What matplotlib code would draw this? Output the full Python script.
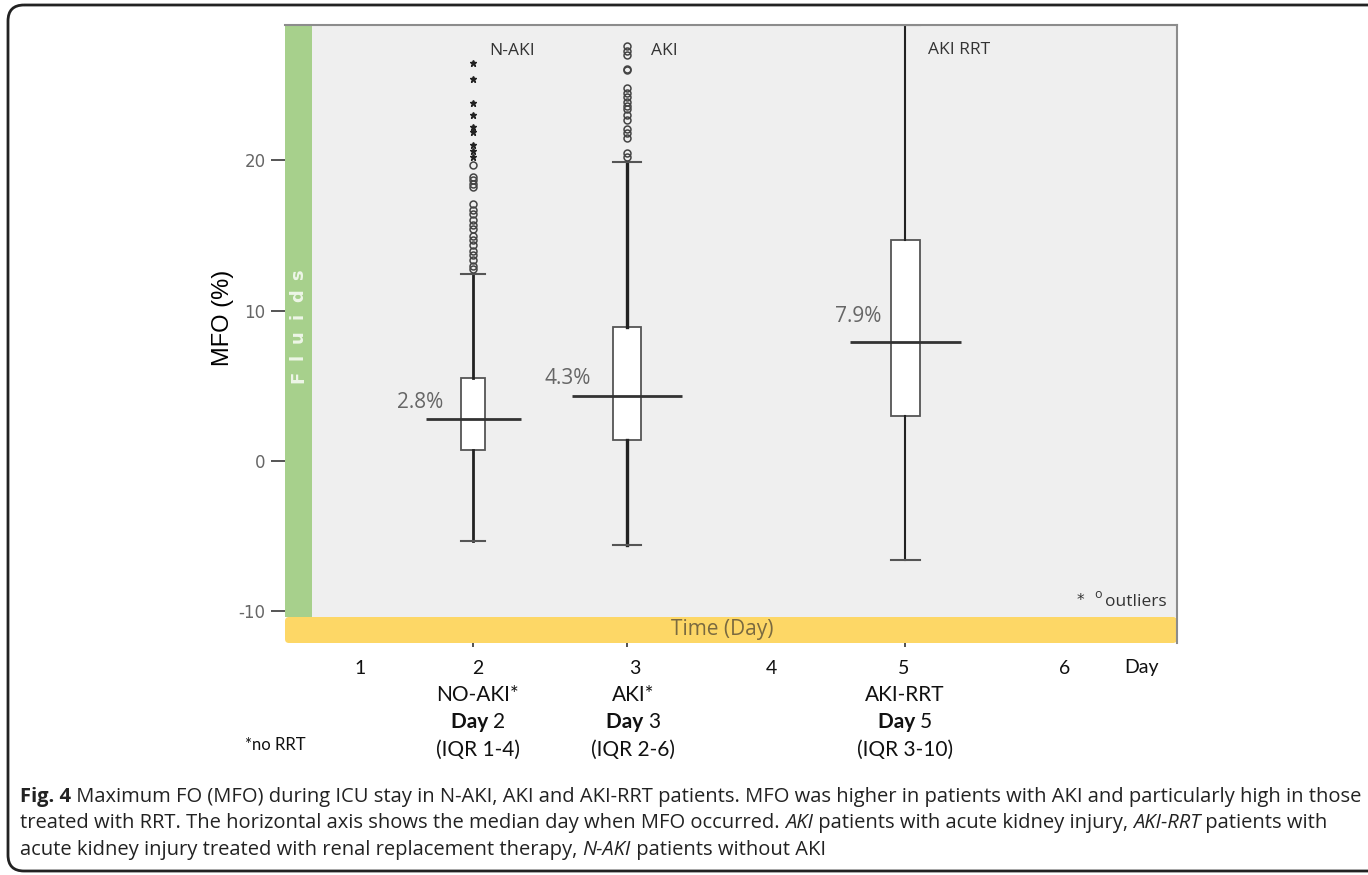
import matplotlib.pyplot as plt
from matplotlib.patches import FancyBboxPatch, Rectangle

plt.rcParams['axes.unicode_minus'] = False

# ---- data (MFO %) ----
groups = ["N-AKI", "AKI", "AKI RRT"]
q1 = [0.75, 1.4, 3.0]
med = [2.8, 4.3, 7.9]
q3 = [5.55, 8.9, 14.7]
whis_lo = [-5.3, -5.6, -6.6]
whis_hi = [12.45, 19.9, 29.0]
med_labels = ["2.8%", "4.3%", "7.9%"]

naki_circles = [19.7, 18.9, 18.7, 18.4, 18.2, 17.1, 16.7, 16.4, 16.0, 15.7,
                15.4, 15.0, 14.7, 14.4, 14.0, 13.7, 13.4, 13.0, 12.8]
naki_stars = [26.5, 25.4, 23.8, 23.0, 22.2, 21.9, 21.0, 20.6, 20.2]
aki_circles = [27.6, 27.3, 27.0, 26.1, 26.0, 24.8, 24.5, 24.2, 23.9, 23.6,
               23.4, 23.0, 22.7, 22.1, 21.8, 21.5, 20.5, 20.2]

day_labels = ["1", "2", "3", "4", "5", "6", "Day"]
group_names = ["NO-AKI*", "AKI*", "AKI-RRT"]
group_days = ["2", "3", "5"]
group_iqr = ["(IQR 1-4)", "(IQR 2-6)", "(IQR 3-10)"]

caption = [
    [("Fig. 4", "bold", "normal"),
     (" Maximum FO (MFO) during ICU stay in N-AKI, AKI and AKI-RRT patients. MFO was higher in patients with AKI and particularly high in those", "normal", "normal")],
    [("treated with RRT. The horizontal axis shows the median day when MFO occurred. ", "normal", "normal"),
     ("AKI", "normal", "italic"), (" patients with acute kidney injury, ", "normal", "normal"),
     ("AKI-RRT", "normal", "italic"), (" patients with", "normal", "normal")],
    [("acute kidney injury treated with renal replacement therapy, ", "normal", "normal"),
     ("N-AKI", "normal", "italic"), (" patients without AKI", "normal", "normal")],
]

# ---- layout (pixels) ----
W, H = 1368, 875
AX_L, AX_R, AX_T, AX_B = 285, 1177, 25, 643
BAND_TOP = 617
GREEN_W = 27
positions = [188, 342, 620]          # box centres, px from plot left
box_w = [24, 28, 29]
med_w = [95, 110, 111]
whisk_lw = [2.0, 2.4, 1.5]
day_x = [360, 478, 635, 771, 904, 1065, 1142]
group_x = [478, 633, 905]

green = "#A7D08C"
yellow = "#FDD766"
grey_bg = "#EFEFEF"

fig = plt.figure(figsize=(W / 100, H / 100), dpi=100)

bg = fig.add_axes([0, 0, 1, 1], zorder=0)
bg.set_xlim(0, W); bg.set_ylim(H, 0); bg.axis("off")
bg.add_patch(Rectangle((AX_L, AX_T), AX_R - AX_L, BAND_TOP - AX_T, fc=grey_bg, ec="none"))
bg.add_patch(Rectangle((AX_L, AX_T), GREEN_W, BAND_TOP - AX_T, fc=green, ec="none"))
bg.add_patch(FancyBboxPatch((AX_L, BAND_TOP), AX_R - AX_L, AX_B - BAND_TOP,
                            boxstyle="round,pad=0,rounding_size=4", fc=yellow, ec="none"))

ax = fig.add_axes([AX_L / W, 1 - AX_B / H, (AX_R - AX_L) / W, (AX_B - AX_T) / H], zorder=1)
ax.patch.set_alpha(0)
ax.set_xlim(0, AX_R - AX_L)
ax.set_ylim(-12.1, 29.0)

stats = []
for i in range(3):
    stats.append(dict(med=med[i], q1=q1[i], q3=q3[i], whislo=whis_lo[i],
                      whishi=whis_hi[i], fliers=[]))
bp = ax.bxp(stats, positions=positions, widths=box_w, capwidths=box_w,
            patch_artist=True, showfliers=False, manage_ticks=False,
            boxprops=dict(facecolor="white", edgecolor="#555555", linewidth=1.3),
            whiskerprops=dict(color="#222222"), capprops=dict(color="#555555", linewidth=1.5),
            medianprops=dict(linewidth=0))
for i in range(3):
    for ln in bp["whiskers"][2 * i:2 * i + 2]:
        ln.set_linewidth(whisk_lw[i])
    ax.hlines(med[i], positions[i] - med_w[i] / 2, positions[i] + med_w[i] / 2,
              color="#333333", lw=2, zorder=4)

ax.plot([positions[0]] * len(naki_circles), naki_circles, "o", ms=5, mfc="none",
        mec="#444444", mew=1.1, zorder=5)
ax.plot([positions[0]] * len(naki_stars), naki_stars, "*", ms=4.5, color="#222222", zorder=5)
ax.plot([positions[1]] * len(aki_circles), aki_circles, "o", ms=5, mfc="none",
        mec="#444444", mew=1.1, zorder=5)

ax.set_yticks([-10, 0, 10, 20])
ax.tick_params(axis="y", direction="out", length=10, width=1.4, color="#555555",
               labelsize=12, labelcolor="#666666", pad=4)
ax.set_xticks(positions)
ax.set_xticklabels([])
ax.tick_params(axis="x", direction="out", length=3, width=1.2, color="#333333")
for s in ["left", "bottom"]:
    ax.spines[s].set_visible(False)
for s in ["top", "right"]:
    ax.spines[s].set_color("#8C8C8C")
    ax.spines[s].set_linewidth(1.5)

# ---- overlay text ----
ov = fig.add_axes([0, 0, 1, 1], zorder=2)
ov.set_xlim(0, W); ov.set_ylim(H, 0); ov.axis("off")
rend = fig.canvas.get_renderer()


def rich(x, y, parts, ha="left", **kw):
    texts = [ov.text(0, y, s, fontweight=wt, fontstyle=st, va="center", **kw)
             for s, wt, st in parts]
    widths = [t.get_window_extent(rend).width for t in texts]
    start = x - sum(widths) / 2 if ha == "center" else x
    for t, w in zip(texts, widths):
        t.set_x(start)
        start += w


ov.text(223, 318, "MFO (%)", rotation=90, ha="center", va="center",
        fontsize=17, family="Liberation Sans", color="#000000")
for i, ch in enumerate("Fluids"):
    ov.text(298, 377 - i * 20.4, ch, rotation=90, ha="center", va="center",
            fontsize=13, fontweight="bold", family="DejaVu Sans", color="#EEF6E8")
ov.text(722, 630, "Time (Day)", ha="center", va="center", fontsize=15,
        family="Open Sans", color="#7A6A40")

lab_kw = dict(family="Open Sans", color="#333333", fontsize=12.5, va="center")
ov.text(489, 51, "N-AKI", **lab_kw)
ov.text(651, 51, "AKI", **lab_kw)
ov.text(928, 50, "AKI RRT", **lab_kw)

pct_y = [402, 378, 317]
pct_r = [443, 591, 881]
for i in range(3):
    ov.text(pct_r[i], pct_y[i], med_labels[i], ha="right", va="center",
            fontsize=15, family="Open Sans", color="#666666")

ov.text(1080, 600, "*", ha="center", va="center", fontsize=11, color="#333333")
ov.text(1098, 594, "o", ha="center", va="center", fontsize=9, color="#333333", family="Open Sans")
ov.text(1105, 602, "outliers", ha="left", va="center", fontsize=12.5,
        family="Open Sans", color="#333333")

for x, s in zip(day_x, day_labels):
    ov.text(x, 668, s, ha="center", va="center", fontsize=14, family="Lato", color="#111111")
for i in range(3):
    ov.text(group_x[i], 695, group_names[i], ha="center", va="center", fontsize=15,
            family="Lato", color="#111111")
    rich(group_x[i], 722, [("Day ", "bold", "normal"), (group_days[i], "normal", "normal")],
         ha="center", fontsize=15, family="Lato", color="#111111")
    ov.text(group_x[i], 750, group_iqr[i], ha="center", va="center", fontsize=15,
            family="Lato", color="#111111")
ov.text(245, 745, "*no RRT", ha="left", va="center", fontsize=12, family="Lato", color="#111111")

# caption, sized so the first line spans the frame
probe = ov.text(0, 0, "".join(p[0] for p in caption[0]), fontsize=12, family="Open Sans")
cap_size = 12 * 1335 / probe.get_window_extent(rend).width
probe.remove()
for row, y in zip(caption, [797, 823, 850]):
    rich(20, y, row, fontsize=cap_size, family="Open Sans", color="#222222")

ov.add_patch(FancyBboxPatch((8, 5), 1420, 866, boxstyle="round,pad=0,rounding_size=16",
                            fill=False, ec="#222222", lw=2))

fig.savefig("out.png", dpi=100)
